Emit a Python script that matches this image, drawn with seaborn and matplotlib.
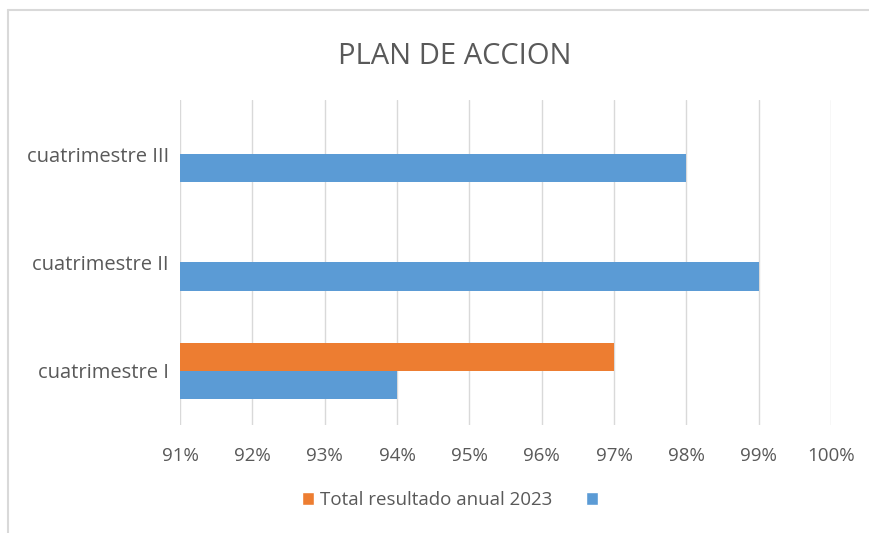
import numpy as np
import pandas as pd
import matplotlib
matplotlib.use("Agg")
import matplotlib.pyplot as plt
import seaborn as sns
from matplotlib.patches import Patch
from matplotlib.lines import Line2D

categories = ["cuatrimestre III", "cuatrimestre II", "cuatrimestre I"]
total_anual = [np.nan, np.nan, 97]      # orange series
serie_azul = [98, 99, 94]              # blue series (unnamed)
series_names = ["Total resultado anual 2023", "Serie2"]
ticks = list(range(91, 101))

sns.set_theme(style="white")
plt.rcParams["font.family"] = ["Open Sans", "DejaVu Sans"]

df = pd.DataFrame({
    "cat": categories * 2,
    "serie": [series_names[0]] * 3 + [series_names[1]] * 3,
    "val": total_anual + serie_azul,
})

fig = plt.figure(figsize=(8.7, 5.33), dpi=100)
ax = fig.add_axes([180/870, 1-425/533, (831-180)/870, (425-100)/533])

palette = {series_names[0]: "#ED7D31", series_names[1]: "#5B9BD5"}
sns.barplot(data=df, y="cat", x="val", hue="serie", order=categories,
            hue_order=series_names, palette=palette, orient="h",
            width=0.52, dodge=True, ax=ax, legend=False, saturation=1,
            edgecolor="none", errorbar=None)

ax.set_xlim(91, 100)
ax.set_xticks(ticks)
ax.set_xticklabels([f"{t}%" for t in ticks])
ax.set_xlabel("")
ax.set_ylabel("")
ax.grid(axis="x", color="#d9d9d9", linewidth=1)
ax.set_axisbelow(True)
for s in ax.spines.values():
    s.set_visible(False)
ax.tick_params(axis="both", length=0, labelsize=13.5, colors="#595959")
ax.tick_params(axis="x", pad=16)
ax.tick_params(axis="y", pad=8, labelsize=14.5)

fig.text(455/870, 1-56/533, "PLAN DE ACCION", ha="center", va="center",
         fontsize=21, color="#595959")

handles = [Patch(facecolor="#ED7D31"), Patch(facecolor="#5B9BD5")]
fig.legend(handles, ["Total resultado anual 2023", " "], loc="center",
           bbox_to_anchor=(455/870, 1-500/533), ncol=2, frameon=False,
           fontsize=13.5, labelcolor="#595959", handlelength=0.65,
           handleheight=0.65, handletextpad=0.3, columnspacing=1.8)

# chart frame
fig.add_artist(Line2D([8/870, 1], [1-10/533, 1-10/533], color="#d9d9d9", lw=1.5,
                      transform=fig.transFigure))
fig.add_artist(Line2D([8/870, 8/870], [0, 1-10/533], color="#d9d9d9", lw=1.5,
                      transform=fig.transFigure))

fig.savefig("out.png", dpi=100, facecolor="white")
